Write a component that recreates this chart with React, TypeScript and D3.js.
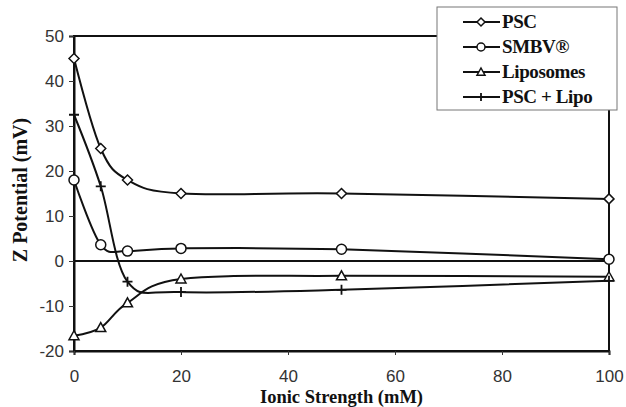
import React, { useEffect, useRef } from "react";
import * as d3 from "d3";

const ionic = [0, 5, 10, 20, 50, 100];
const psc = [45, 25, 18, 15, 15, 13.8];
const smbv = [18, 3.6, 2.2, 2.8, 2.6, 0.4];
const liposomes = [-16.6, -14.8, -9.3, -4, -3.3, -3.5];
const pscLipo = [32.5, 16.6, -4.6, -6.9, -6.4, -4.4];
const seriesNames = ["PSC", "SMBV®", "Liposomes", "PSC + Lipo"];
const markers = ["diamond", "circle", "triangle", "plus"];
const xTicks = [0, 20, 40, 60, 80, 100];
const yTicks = [-20, -10, 0, 10, 20, 30, 40, 50];

function drawMarker(g, type, size) {
  const s = size;
  if (type === "diamond") {
    g.append("path")
      .attr("d", `M0,${-s}L${s},0L0,${s}L${-s},0Z`)
      .attr("fill", "#fff")
      .attr("stroke", "#111")
      .attr("stroke-width", 1.5);
  } else if (type === "circle") {
    g.append("circle")
      .attr("r", s)
      .attr("fill", "#fff")
      .attr("stroke", "#111")
      .attr("stroke-width", 1.5);
  } else if (type === "triangle") {
    g.append("path")
      .attr("d", `M0,${-s}L${s},${s * 0.8}L${-s},${s * 0.8}Z`)
      .attr("fill", "#fff")
      .attr("stroke", "#111")
      .attr("stroke-width", 1.5);
  } else {
    g.append("path")
      .attr("d", `M${-s},0L${s},0M0,${-s}L0,${s}`)
      .attr("stroke", "#111")
      .attr("stroke-width", 1.8);
  }
}

function App() {
  const svgRef = useRef(null);

  useEffect(() => {
    const width = 626;
    const height = 407;
    const margin = { top: 36, right: 17, bottom: 56, left: 74 };

    const svg = d3.select(svgRef.current);
    svg.selectAll("*").remove();
    svg.attr("width", width).attr("height", height);

    const x = d3.scaleLinear().domain([0, 100]).range([margin.left, width - margin.right]);
    const y = d3.scaleLinear().domain([-20, 50]).range([height - margin.bottom, margin.top]);

    svg.append("rect").attr("width", width).attr("height", height).attr("fill", "#fff");

    // frame
    svg
      .append("rect")
      .attr("x", x(0))
      .attr("y", y(50))
      .attr("width", x(100) - x(0))
      .attr("height", y(-20) - y(50))
      .attr("fill", "none")
      .attr("stroke", "#111")
      .attr("stroke-width", 2);

    // zero line
    svg
      .append("line")
      .attr("x1", x(0))
      .attr("x2", x(100))
      .attr("y1", y(0))
      .attr("y2", y(0))
      .attr("stroke", "#111")
      .attr("stroke-width", 1.8);

    const yAxis = svg
      .append("g")
      .attr("transform", `translate(${x(0)},0)`)
      .call(d3.axisLeft(y).tickValues(yTicks).tickSize(5).tickPadding(5).tickFormat((d) => String(d)));
    yAxis.select(".domain").attr("stroke", "#111").attr("stroke-width", 2);
    yAxis.selectAll(".tick line").attr("stroke", "#333").attr("stroke-width", 1);
    yAxis
      .selectAll(".tick text")
      .attr("font-family", "Liberation Sans, Arial, sans-serif")
      .attr("font-size", 17)
      .attr("fill", "#333");

    const xAxis = svg
      .append("g")
      .attr("transform", `translate(0,${y(-20)})`)
      .call(d3.axisBottom(x).tickValues(xTicks).tickSize(4).tickPadding(15).tickFormat((d) => String(d)));
    xAxis.select(".domain").attr("stroke", "#111").attr("stroke-width", 2);
    xAxis.selectAll(".tick line").attr("stroke", "#333").attr("stroke-width", 1);
    xAxis
      .selectAll(".tick text")
      .attr("font-family", "Liberation Sans, Arial, sans-serif")
      .attr("font-size", 17)
      .attr("fill", "#333");

    const allSeries = [psc, smbv, liposomes, pscLipo];
    const line = d3
      .line()
      .x((d) => x(d[0]))
      .y((d) => y(d[1]))
      .curve(d3.curveCatmullRom.alpha(0));

    allSeries.forEach((vals, i) => {
      const pts = ionic.map((v, j) => [v, vals[j]]);
      svg
        .append("path")
        .datum(pts)
        .attr("d", line)
        .attr("fill", "none")
        .attr("stroke", "#111")
        .attr("stroke-width", 2);
      pts.forEach((p) => {
        const g = svg.append("g").attr("transform", `translate(${x(p[0])},${y(p[1])})`);
        drawMarker(g, markers[i], 5);
      });
    });

    // legend
    const lg = svg.append("g").attr("transform", "translate(437,7)");
    lg.append("rect")
      .attr("width", 180)
      .attr("height", 103)
      .attr("fill", "#fff")
      .attr("stroke", "#777")
      .attr("stroke-width", 1);
    seriesNames.forEach((name, i) => {
      const cy = 15 + i * 25;
      lg.append("line")
        .attr("x1", 26)
        .attr("x2", 63)
        .attr("y1", cy)
        .attr("y2", cy)
        .attr("stroke", "#111")
        .attr("stroke-width", 2);
      const g = lg.append("g").attr("transform", `translate(44,${cy})`);
      drawMarker(g, markers[i], 4);
      lg.append("text")
        .attr("x", 65)
        .attr("y", cy + 6)
        .attr("font-family", "Liberation Serif, Times New Roman, serif")
        .attr("font-weight", "bold")
        .attr("font-size", 19)
        .attr("letter-spacing", -0.4)
        .attr("fill", "#111")
        .text(name);
    });

    svg
      .append("text")
      .attr("x", (x(0) + x(100)) / 2 + 0)
      .attr("y", 403)
      .attr("text-anchor", "middle")
      .attr("font-family", "Liberation Serif, Times New Roman, serif")
      .attr("font-weight", "bold")
      .attr("font-size", 18.5)
      .attr("fill", "#111")
      .text("Ionic Strength (mM)");

    svg
      .append("text")
      .attr("transform", `translate(27,190) rotate(-90)`)
      .attr("text-anchor", "middle")
      .attr("font-family", "Liberation Serif, Times New Roman, serif")
      .attr("font-weight", "bold")
      .attr("font-size", 20)
      .attr("fill", "#111")
      .text("Z Potential (mV)");
  }, []);

  return (
    <svg
      ref={svgRef}
      style={{ position: "absolute", left: 0, top: 0, display: "block" }}
    ></svg>
  );
}

export default App;
